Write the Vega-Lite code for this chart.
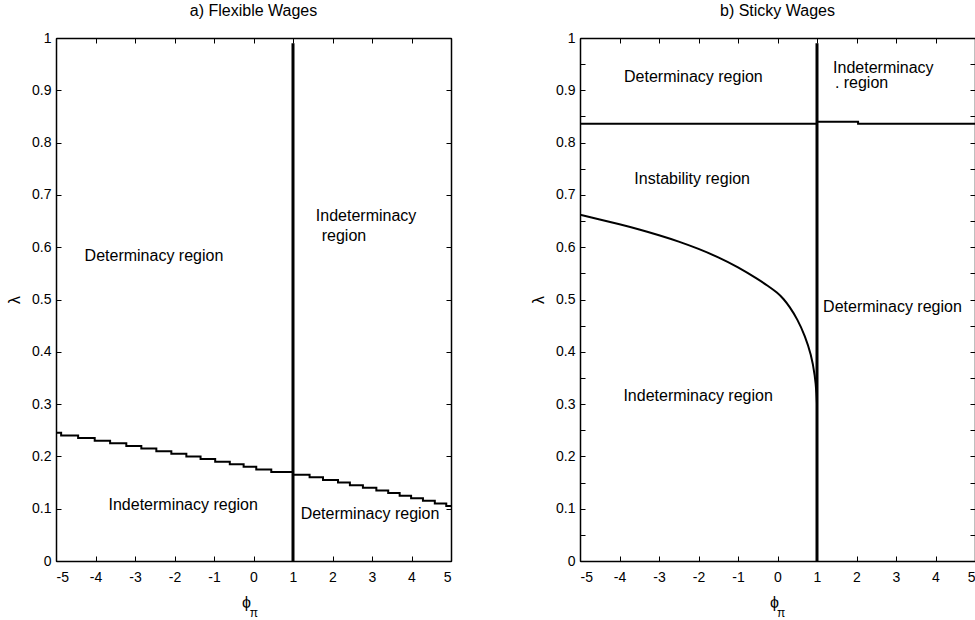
{
  "$schema": "https://vega.github.io/schema/vega-lite/v6.json",
  "background": "white",
  "padding": {"left": 6, "top": 2, "right": 0, "bottom": 0},
  "spacing": 78,
  "config": {
    "view": {"stroke": "black", "strokeWidth": 1},
    "font": "Liberation Sans",
    "title": {"font": "Liberation Sans", "fontSize": 16, "fontWeight": "normal", "color": "black", "offset": 12},
    "axis": {
      "grid": false, "domainColor": "black", "domainWidth": 1.5, "tickColor": "black", "tickSize": -5, "tickWidth": 1,
      "labelColor": "black", "labelFont": "Liberation Sans", "labelFontSize": 14,
      "titleColor": "black", "titleFont": "Liberation Sans", "titleFontSize": 16, "titleFontWeight": "normal"
    },
    "text": {"font": "Liberation Sans", "fontSize": 16, "color": "black"}
  },
  "datasets": {
    "stepsA": [
      {"x": -5, "y": 0.245}, {"x": -4.87, "y": 0.24}, {"x": -4.44, "y": 0.235}, {"x": -4.02, "y": 0.23},
      {"x": -3.63, "y": 0.225}, {"x": -3.22, "y": 0.22}, {"x": -2.84, "y": 0.215}, {"x": -2.46, "y": 0.21},
      {"x": -2.08, "y": 0.205}, {"x": -1.7, "y": 0.2}, {"x": -1.34, "y": 0.195}, {"x": -0.97, "y": 0.19},
      {"x": -0.6, "y": 0.185}, {"x": -0.25, "y": 0.18}, {"x": 0.07, "y": 0.175}, {"x": 0.45, "y": 0.17},
      {"x": 1.0, "y": 0.165}, {"x": 1.42, "y": 0.16}, {"x": 1.76, "y": 0.155}, {"x": 2.14, "y": 0.15},
      {"x": 2.44, "y": 0.145}, {"x": 2.77, "y": 0.14}, {"x": 3.11, "y": 0.135}, {"x": 3.41, "y": 0.13},
      {"x": 3.7, "y": 0.125}, {"x": 3.99, "y": 0.12}, {"x": 4.29, "y": 0.115}, {"x": 4.59, "y": 0.11},
      {"x": 4.88, "y": 0.105}, {"x": 5, "y": 0.105}
    ],
    "vline": [{"x": 1, "y": 0, "y2": 0.99}],
    "labelsA": [
      {"x": -2.52, "y": 0.573, "t": "Determinacy region"},
      {"x": 2.85, "y": 0.651, "t": "Indeterminacy"},
      {"x": 2.29, "y": 0.612, "t": "region"},
      {"x": -1.78, "y": 0.0975, "t": "Indeterminacy region"},
      {"x": 2.95, "y": 0.08, "t": "Determinacy region"}
    ],
    "piA": [{"x": 0.01, "y": -0.0985, "t": "π"}],
    "curveB": [
      {"x": -5, "y": 0.662}, {"x": -4.5, "y": 0.653}, {"x": -4, "y": 0.644}, {"x": -3.5, "y": 0.634},
      {"x": -3, "y": 0.623}, {"x": -2.5, "y": 0.611}, {"x": -2, "y": 0.597}, {"x": -1.5, "y": 0.581},
      {"x": -1, "y": 0.562}, {"x": -0.5, "y": 0.539}, {"x": -0.25, "y": 0.5265}, {"x": 0, "y": 0.513},
      {"x": 0.15, "y": 0.5015}, {"x": 0.3, "y": 0.487}, {"x": 0.5, "y": 0.463}, {"x": 0.7, "y": 0.43},
      {"x": 0.85, "y": 0.395}, {"x": 0.95, "y": 0.355}, {"x": 0.99, "y": 0.318}, {"x": 1.0, "y": 0.3}
    ],
    "hlineB": [
      {"i": 0, "x": -5, "y": 0.836}, {"i": 1, "x": 1, "y": 0.836}, {"i": 2, "x": 1, "y": 0.84},
      {"i": 3, "x": 2.04, "y": 0.84}, {"i": 4, "x": 2.04, "y": 0.836}, {"i": 5, "x": 5, "y": 0.836}
    ],
    "labelsB": [
      {"x": -2.13, "y": 0.915, "t": "Determinacy region"},
      {"x": 2.68, "y": 0.934, "t": "Indeterminacy"},
      {"x": 2.24, "y": 0.904, "t": "region"},
      {"x": 1.51, "y": 0.904, "t": "."},
      {"x": -2.16, "y": 0.721, "t": "Instability region"},
      {"x": 2.91, "y": 0.477, "t": "Determinacy region"},
      {"x": -2.01, "y": 0.306, "t": "Indeterminacy region"}
    ],
    "piB": [{"x": 0.09, "y": -0.0985, "t": "π"}]
  },
  "hconcat": [
    {
      "width": 395, "height": 523,
      "title": "a) Flexible Wages",
      "resolve": {"axis": {"x": "independent", "y": "independent"}},
      "layer": [
        {
          "data": {"name": "stepsA"},
          "mark": {"type": "line", "interpolate": "step-after", "color": "black", "strokeWidth": 2, "clip": true},
          "encoding": {
            "x": {"field": "x", "type": "quantitative", "scale": {"domain": [-5, 5], "nice": false, "zero": false},
              "axis": {"orient": "bottom", "values": [-5,-4,-3,-2,-1,0,1,2,3,4,5], "labelExpr": "'' + datum.value", "labelPadding": 14, "title": "ϕ", "titlePadding": 10, "titleX": 190}},
            "y": {"field": "y", "type": "quantitative", "scale": {"domain": [0, 1], "nice": false, "zero": false},
              "axis": {"orient": "left", "values": [0,0.1,0.2,0.3,0.4,0.5,0.6,0.7,0.8,0.9,1], "labelExpr": "format(datum.value, '~g')", "labelPadding": 10, "title": "λ", "titlePadding": 9}}
          }
        },
        {
          "data": {"name": "vline"},
          "mark": {"type": "rule", "color": "black", "strokeWidth": 3},
          "encoding": {
            "x": {"field": "x", "type": "quantitative",
              "axis": {"orient": "top", "values": [-5,-4,-3,-2,-1,0,1,2,3,4,5], "labels": false, "title": null}},
            "y": {"field": "y", "type": "quantitative",
              "axis": {"orient": "right", "values": [0,0.1,0.2,0.3,0.4,0.5,0.6,0.7,0.8,0.9,1], "labels": false, "title": null}},
            "y2": {"field": "y2"}
          }
        },
        {
          "data": {"name": "labelsA"},
          "mark": {"type": "text", "align": "center", "baseline": "alphabetic", "fontSize": 16},
          "encoding": {
            "x": {"field": "x", "type": "quantitative", "axis": null},
            "y": {"field": "y", "type": "quantitative", "axis": null},
            "text": {"field": "t"}
          }
        },
        {
          "data": {"name": "piA"},
          "mark": {"type": "text", "align": "center", "baseline": "middle", "fontSize": 12},
          "encoding": {
            "x": {"field": "x", "type": "quantitative", "axis": null},
            "y": {"field": "y", "type": "quantitative", "axis": null},
            "text": {"field": "t"}
          }
        }
      ]
    },
    {
      "width": 395, "height": 523,
      "title": "b) Sticky Wages",
      "resolve": {"axis": {"x": "independent", "y": "independent"}},
      "layer": [
        {
          "data": {"name": "curveB"},
          "mark": {"type": "line", "interpolate": "basis", "color": "black", "strokeWidth": 2, "clip": true},
          "encoding": {
            "x": {"field": "x", "type": "quantitative", "scale": {"domain": [-5, 5], "nice": false, "zero": false},
              "axis": {"orient": "bottom", "values": [-5,-4,-3,-2,-1,0,1,2,3,4,5], "labelExpr": "'' + datum.value", "labelPadding": 14, "title": "ϕ", "titlePadding": 10, "titleX": 194}},
            "y": {"field": "y", "type": "quantitative", "scale": {"domain": [0, 1], "nice": false, "zero": false},
              "axis": {"orient": "left", "values": [0,0.05,0.1,0.15,0.2,0.25,0.3,0.35,0.4,0.45,0.5,0.55,0.6,0.65,0.7,0.75,0.8,0.85,0.9,0.95,1], "labelExpr": "round(datum.value*20)%2==0 ? format(datum.value, '~g') : ''", "labelPadding": 10, "title": "λ", "titlePadding": 9}}
          }
        },
        {
          "data": {"name": "hlineB"},
          "mark": {"type": "line", "color": "black", "strokeWidth": 2, "clip": true},
          "encoding": {
            "x": {"field": "x", "type": "quantitative", "axis": null},
            "y": {"field": "y", "type": "quantitative", "axis": null},
            "order": {"field": "i", "type": "quantitative"}
          }
        },
        {
          "data": {"name": "vline"},
          "mark": {"type": "rule", "color": "black", "strokeWidth": 3},
          "encoding": {
            "x": {"field": "x", "type": "quantitative",
              "axis": {"orient": "top", "values": [-5,-4,-3,-2,-1,0,1,2,3,4,5], "labels": false, "title": null}},
            "y": {"field": "y", "type": "quantitative",
              "axis": {"orient": "right", "values": [0,0.05,0.1,0.15,0.2,0.25,0.3,0.35,0.4,0.45,0.5,0.55,0.6,0.65,0.7,0.75,0.8,0.85,0.9,0.95,1], "labels": false, "title": null}},
            "y2": {"field": "y2"}
          }
        },
        {
          "data": {"name": "labelsB"},
          "mark": {"type": "text", "align": "center", "baseline": "alphabetic", "fontSize": 16},
          "encoding": {
            "x": {"field": "x", "type": "quantitative", "axis": null},
            "y": {"field": "y", "type": "quantitative", "axis": null},
            "text": {"field": "t"}
          }
        },
        {
          "data": {"name": "piB"},
          "mark": {"type": "text", "align": "center", "baseline": "middle", "fontSize": 12},
          "encoding": {
            "x": {"field": "x", "type": "quantitative", "axis": null},
            "y": {"field": "y", "type": "quantitative", "axis": null},
            "text": {"field": "t"}
          }
        }
      ]
    }
  ]
}
